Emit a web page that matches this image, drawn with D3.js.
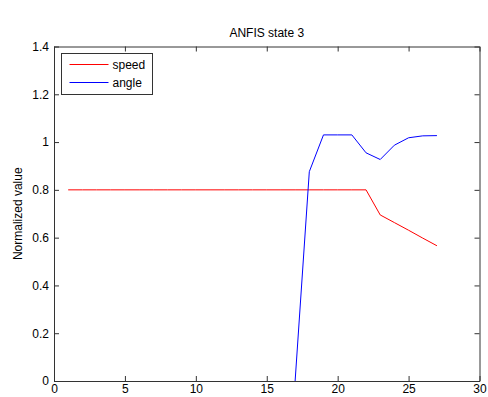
<!DOCTYPE html>
<html>
<head>
<meta charset="utf-8">
<script src="https://cdn.jsdelivr.net/npm/d3@7"></script>
<style>
  body { margin: 0; background: #fff; }
  text { font-family: "Liberation Sans", Arial, sans-serif; font-size: 12px; fill: #000; }
</style>
</head>
<body>
<div id="chart"></div>
<script>
// data
const speedX = [1, 2, 3, 4, 5, 6, 7, 8, 9, 10, 11, 12, 13, 14, 15, 16, 17, 18, 19, 20, 21, 22, 23, 24, 25, 26, 27];
const speedY = [0.8, 0.8, 0.8, 0.8, 0.8, 0.8, 0.8, 0.8, 0.8, 0.8, 0.8, 0.8, 0.8, 0.8, 0.8, 0.8, 0.8, 0.8, 0.8, 0.8, 0.8, 0.8, 0.695, 0.663, 0.631, 0.598, 0.566];
const angleX = [17, 18, 19, 20, 21, 22, 23, 24, 25, 26, 27];
const angleY = [0, 0.876, 1.03, 1.03, 1.03, 0.955, 0.927, 0.987, 1.018, 1.026, 1.027];
const xTicks = [0, 5, 10, 15, 20, 25, 30];
const yTicks = [0, 0.2, 0.4, 0.6, 0.8, 1, 1.2, 1.4];
const seriesNames = ["speed", "angle"];
const seriesColors = ["#ff0000", "#0000ff"];

const width = 488, height = 397;
const margin = {top: 46.5, right: 8.5, bottom: 16, left: 54};
const w = width - margin.left - margin.right;
const h = height - margin.top - margin.bottom;

const svg = d3.select("#chart").append("svg")
  .attr("width", width)
  .attr("height", height);

const x = d3.scaleLinear().domain([0, 30]).range([0, w]);
const y = d3.scaleLinear().domain([0, 1.4]).range([h, 0]);

svg.append("defs").append("clipPath").attr("id", "clip")
  .append("rect").attr("width", w).attr("height", h);

const g = svg.append("g").attr("transform", `translate(${margin.left},${margin.top})`);

// axes, matlab style ticks pointing in
const fmt = d => d3.format("")(+d.toFixed(1));
g.append("g").attr("transform", `translate(0,${h})`)
  .call(d3.axisBottom(x).tickValues(xTicks).tickSizeInner(-5).tickSizeOuter(0).tickPadding(3.5));
g.append("g").attr("transform", `translate(0,0)`)
  .call(d3.axisTop(x).tickValues(xTicks).tickSizeInner(-5).tickSizeOuter(0).tickFormat(""));
g.append("g")
  .call(d3.axisLeft(y).tickValues(yTicks).tickSizeInner(-5).tickSizeOuter(0).tickPadding(5).tickFormat(fmt));
g.append("g").attr("transform", `translate(${w},0)`)
  .call(d3.axisRight(y).tickValues(yTicks).tickSizeInner(-5).tickSizeOuter(0).tickFormat(""));

g.selectAll(".domain").attr("stroke", "#333");
g.selectAll(".tick line").attr("stroke", "#333");
g.selectAll(".tick text").attr("font-size", 12).attr("font-family", "Liberation Sans, Arial, sans-serif").attr("fill", "#111");

const line = d3.line().x(d => x(d[0])).y(d => y(d[1]));
const speedData = speedX.map((v, i) => [v, speedY[i]]);
const angleData = angleX.map((v, i) => [v, angleY[i]]);

const plot = g.append("g").attr("clip-path", "url(#clip)");
[speedData, angleData].forEach((d, i) => {
  plot.append("path")
    .datum(d)
    .attr("fill", "none")
    .attr("stroke", seriesColors[i])
    .attr("stroke-width", 1)
    .attr("d", line);
});

// title and label
svg.append("text")
  .attr("x", margin.left + w / 2)
  .attr("y", 37)
  .attr("text-anchor", "middle")
  .attr("font-size", 12.7)
  .text("ANFIS state 3");

svg.append("text")
  .attr("transform", `translate(22,${margin.top + h / 2}) rotate(-90)`)
  .attr("text-anchor", "middle")
  .text("Normalized value");

// legend
const leg = svg.append("g").attr("transform", "translate(61.5,53.5)");
leg.append("rect").attr("width", 91).attr("height", 41)
  .attr("fill", "#fff").attr("stroke", "#333");
seriesNames.forEach((n, i) => {
  leg.append("line")
    .attr("x1", 8).attr("x2", 47)
    .attr("y1", 11 + i * 18).attr("y2", 11 + i * 18)
    .attr("stroke", seriesColors[i]);
  leg.append("text")
    .attr("x", 51).attr("y", 15 + i * 18)
    .text(n);
});
</script>
</body>
</html>
